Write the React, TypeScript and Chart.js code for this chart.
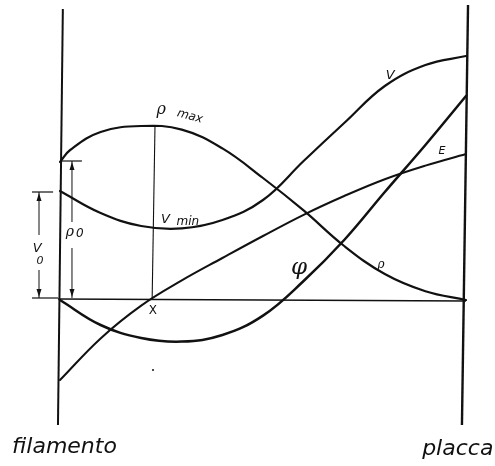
import React, { useEffect, useRef } from "react";
import { Chart, registerables } from "chart.js";

Chart.register(...registerables);

// Position between filament (0) and plate (100)
const rhoX = [0, 2.5, 10, 20, 30, 40, 50, 60, 70, 80, 90, 100];
const rhoY = [34.5, 37.5, 42, 43.5, 42.6, 37.9, 30.5, 22.4, 13.5, 6.5, 2.2, 0];

const vX = [0, 10, 20, 30, 40, 50, 60, 70, 80, 90, 100];
const vY = [27.25, 21.75, 18.5, 17.9, 20, 25, 34.75, 44.25, 53.5, 58.75, 61];

const eX = [0, 10, 20, 30, 40, 50, 60, 70, 80, 90, 100];
const eY = [-20, -9.6, -1.4, 4.9, 10.5, 16, 21.3, 26, 30.2, 33.6, 36.5];

const phiX = [0, 10, 20, 30, 40, 50, 60, 70, 80, 90, 100];
const phiY = [0, -6.25, -9.5, -10.4, -8.75, -3.9, 4.75, 15, 27, 38.75, 51];

// Construction lines
const filamentX = [0.7, -0.5];
const filamentY = [72.75, -31.25];
const plateX = [100.5, 99];
const plateY = [73.75, -31.25];
const axisX = [-0.5, 100];
const axisY = [0.25, -0.25];
const rhoMaxX = [23.4, 22.7];
const rhoMaxY = [43.75, 0.5];

// Reference quantities
const rho0 = 34.75;
const v0 = 27;

const toPts = (xs: number[], ys: number[]) => xs.map((x, i) => ({ x, y: ys[i] }));

export default function App() {
  const ref = useRef<HTMLCanvasElement>(null);

  useEffect(() => {
    const canvas = ref.current;
    if (!canvas) return;

    const curve = (label: string, xs: number[], ys: number[], w: number) => ({
      label,
      data: toPts(xs, ys),
      showLine: true,
      borderColor: "#111",
      backgroundColor: "#111",
      borderWidth: w,
      pointRadius: 0,
      pointHoverRadius: 0,
      tension: 0.4,
      clip: false as any,
      fill: false,
      borderCapStyle: "round" as const,
      borderJoinStyle: "round" as const,
    });
    const straight = (label: string, xs: number[], ys: number[], w: number) => ({
      ...curve(label, xs, ys, w),
      tension: 0,
      borderCapStyle: "butt" as const,
    });

    const notes = {
      id: "notes",
      afterDatasetsDraw(chart: any) {
        const c: CanvasRenderingContext2D = chart.ctx;
        const X = (v: number) => chart.scales.x.getPixelForValue(v);
        const Y = (v: number) => chart.scales.y.getPixelForValue(v);
        c.save();
        c.strokeStyle = "#111";
        c.fillStyle = "#111";

        const line = (x1: number, y1: number, x2: number, y2: number, w = 1) => {
          c.lineWidth = w;
          c.beginPath();
          c.moveTo(x1, y1);
          c.lineTo(x2, y2);
          c.stroke();
        };
        const head = (x: number, y: number, dir: number) => {
          c.beginPath();
          c.moveTo(x, y);
          c.lineTo(x - 2.5, y - dir * 8);
          c.lineTo(x + 2.5, y - dir * 8);
          c.closePath();
          c.fill();
        };
        const text = (s: string, x: number, y: number, font: string, rot = 0, align: CanvasTextAlign = "center", base: CanvasTextBaseline = "middle") => {
          c.save();
          c.translate(x, y);
          c.rotate(rot);
          c.font = font;
          c.textAlign = align;
          c.textBaseline = base;
          c.fillText(s, 0, 0);
          c.restore();
        };

        // rho0 arrow
        const rx = X(2.95);
        line(X(0), Y(rho0), X(5.4), Y(rho0), 1.2);
        line(rx, Y(rho0), rx, Y(19.5), 1);
        line(rx, Y(13), rx, Y(0.5), 1);
        head(rx, Y(rho0) + 1, -1);
        head(rx, Y(0.5) - 1, 1);
        text("ρ", X(2.4), Y(17), 'italic 14px "DejaVu Serif"');
        text("0", X(4.9), Y(16.5), 'italic 12px "DejaVu Sans"');

        // V0 arrow
        const vx = X(-5.17);
        line(X(-6.9), Y(v0), X(-1.7), Y(v0), 1.2);
        line(X(-6.9), Y(0.5), X(-0.5), Y(0.5), 1.2);
        line(vx, Y(v0), vx, Y(16.25), 1);
        line(vx, Y(7.5), vx, Y(0.5), 1);
        head(vx, Y(v0) + 1, -1);
        head(vx, Y(0.5) - 1, 1);
        text("V", X(-5.6), Y(12.75), 'italic 13px "DejaVu Sans"');
        text("0", X(-4.9), Y(9.75), 'italic 11px "DejaVu Sans"');

        // curve labels
        text("ρ", X(24.9), Y(47.5), 'italic 16px "DejaVu Serif"');
        text("max", X(32), Y(45.9), 'italic 12px "DejaVu Sans"', 0.27);
        text("V", X(26), Y(20), 'italic 13px "DejaVu Sans"');
        text("min", X(31.5), Y(19.6), 'italic 12px "DejaVu Sans"');
        text("X", X(22.9), Y(-2.75), '12px "DejaVu Sans"');
        text("φ", X(58.9), Y(8), 'italic 23px "DejaVu Serif"');
        text("ρ", X(79.1), Y(8.9), 'italic 12px "DejaVu Serif"');
        text("V", X(81.3), Y(56), 'italic 13px "DejaVu Sans"');
        text("E", X(94.1), Y(37.3), 'italic 11px "DejaVu Sans"');

        // electrodes
        text("filamento", X(-11.8), Y(-38.25), 'italic 22px "DejaVu Sans"', 0, "left", "alphabetic");
        text("placca", X(89.2), Y(-38.75), 'italic 22px "DejaVu Sans"', 0, "left", "alphabetic");

        // speck
        c.beginPath();
        c.arc(X(22.9), Y(-17.5), 1, 0, Math.PI * 2);
        c.fill();
        c.restore();
      },
    };

    const chart = new Chart(canvas, {
      type: "scatter",
      data: {
        datasets: [
          straight("filamento", filamentX, filamentY, 2),
          straight("placca", plateX, plateY, 2.4),
          straight("asse", axisX, axisY, 1.5),
          straight("rho max", rhoMaxX, rhoMaxY, 1.1),
          curve("ρ", rhoX, rhoY, 2.2),
          curve("V", vX, vY, 2.2),
          curve("E", eX, eY, 2),
          curve("φ", phiX, phiY, 2.5),
        ] as any,
      },
      options: {
        responsive: false,
        animation: false,
        layout: { padding: { left: 60, right: 29, top: 5, bottom: 41 } },
        plugins: { legend: { display: false }, tooltip: { enabled: false } },
        events: [],
        scales: {
          x: { type: "linear", min: 0, max: 100, display: false },
          y: { type: "linear", min: -31.25, max: 73.75, display: false },
        },
      },
      plugins: [notes],
    });
    return () => chart.destroy();
  }, []);

  return (
    <div style={{ position: "fixed", left: 0, top: 0, width: 495, height: 466, background: "#fff" }}>
      <canvas ref={ref} width={495} height={466} style={{ display: "block" }} />
    </div>
  );
}
